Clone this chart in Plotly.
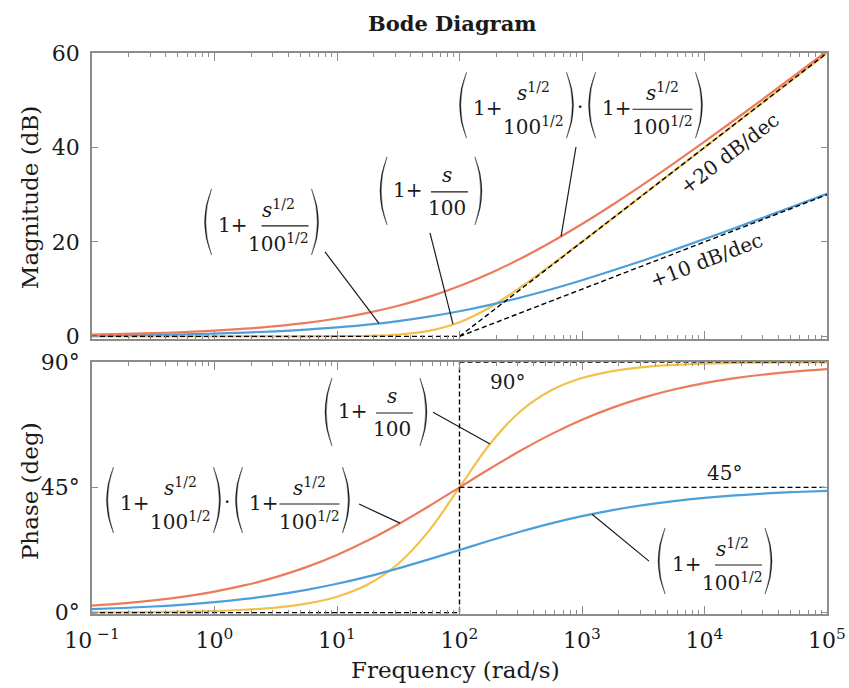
import numpy as np
import plotly.graph_objects as go

# ---------------- data ----------------
freq = [0.1, 0.1778, 0.3162, 0.5623, 1.0, 1.778, 3.162, 5.623, 10.0, 17.78, 31.62, 56.23,
        100.0, 177.8, 316.2, 562.3, 1000.0, 1778.0, 3162.0, 5623.0, 10000.0, 17783.0,
        31623.0, 56234.0, 100000.0]

mag_yellow = [0.0, 0.0, 0.0, 0.0, 0.0, 0.0, 0.0, 0.01, 0.04, 0.14, 0.41, 1.19, 3.01, 6.19,
              10.41, 15.14, 20.04, 25.01, 30.0, 35.0, 40.0, 45.0, 50.0, 55.0, 60.0]
mag_blue = [0.19, 0.26, 0.35, 0.46, 0.61, 0.81, 1.08, 1.44, 1.90, 2.49, 3.25, 4.19, 5.33, 6.69,
            8.25, 9.99, 11.90, 13.94, 16.08, 18.32, 20.61, 22.96, 25.35, 27.76, 30.19]
mag_orange = [0.39, 0.52, 0.69, 0.92, 1.22, 1.63, 2.17, 2.87, 3.79, 4.98, 6.49, 8.38, 10.67,
              13.38, 16.49, 19.98, 23.79, 27.87, 32.17, 36.63, 41.22, 45.92, 50.69, 55.52, 60.39]

ph_yellow = [0.06, 0.10, 0.18, 0.32, 0.57, 1.02, 1.81, 3.22, 5.71, 10.08, 17.55, 29.35, 45.0,
             60.65, 72.45, 79.92, 84.29, 86.78, 88.19, 88.98, 89.43, 89.68, 89.82, 89.90, 89.94]
ph_blue = [1.25, 1.66, 2.19, 2.88, 3.78, 4.93, 6.37, 8.17, 10.36, 12.94, 15.88, 19.11, 22.5,
           25.89, 29.12, 32.06, 34.64, 36.83, 38.63, 40.07, 41.22, 42.12, 42.81, 43.34, 43.75]
ph_orange = [2.51, 3.32, 4.38, 5.77, 7.56, 9.85, 12.75, 16.34, 20.71, 25.87, 31.76, 38.22, 45.0,
             51.78, 58.24, 64.13, 69.29, 73.66, 77.25, 80.15, 82.44, 84.23, 85.62, 86.68, 87.49]

# asymptotes
asym_low_f = [0.1, 100]
asym_low_v = [0, 0]
asym_high_f = [100, 100000]
mag_asym_20 = [0, 60]
mag_asym_10 = [0, 30]
ph_vert_f = [100, 100]
ph_vert_v = [0, 90]
ph_asym_90 = [90, 90]
ph_asym_45 = [45, 45]

# ticks
x_tickvals = [0.1, 1, 10, 100, 1000, 10000, 100000]
x_ticktext = ["10<sup>\u00a0\u22121</sup>", "10<sup>0</sup>", "10<sup>1</sup>", "10<sup>2</sup>",
              "10<sup>3</sup>", "10<sup>4</sup>", "10<sup>5</sup>"]
x_minor = [m * d for d in [0.1, 1, 10, 100, 1000, 10000] for m in range(2, 10)]
mag_tickvals = [0, 20, 40, 60]
mag_ticktext = ["0", "20", "40", "60"]
ph_tickvals = [0, 45, 90]
ph_ticktext = ["0\u00b0", "45\u00b0", "90\u00b0"]

# ---------------- style ----------------
FONT = "DejaVu Serif"
INK = "#1a1a1a"
FRAME = "#8c8c8c"
C_BLUE = "#4d9fdb"
C_ORANGE = "#ec7b5b"
C_YELLOW = "#f2c14c"

fig = go.Figure()


def curve(x, y, color, xa, ya, width=2.2, dash=None, shape="spline"):
    fig.add_trace(go.Scatter(x=x, y=y, mode="lines",
                             line=dict(color=color, width=width, dash=dash, shape=shape),
                             xaxis=xa, yaxis=ya, hoverinfo="skip", showlegend=False))


# magnitude
curve(freq, mag_yellow, C_YELLOW, "x", "y")
curve(freq, mag_blue, C_BLUE, "x", "y")
curve(freq, mag_orange, C_ORANGE, "x", "y")
DASH = "5px,3px"
curve(asym_low_f, asym_low_v, "black", "x", "y", 1.4, DASH, "linear")
curve(asym_high_f, mag_asym_20, "black", "x", "y", 1.4, DASH, "linear")
curve(asym_high_f, mag_asym_10, "black", "x", "y", 1.4, DASH, "linear")
# phase
curve(freq, ph_yellow, C_YELLOW, "x2", "y2")
curve(freq, ph_blue, C_BLUE, "x2", "y2")
curve(freq, ph_orange, C_ORANGE, "x2", "y2")
curve(asym_low_f, asym_low_v, "black", "x2", "y2", 1.4, DASH, "linear")
curve(ph_vert_f, ph_vert_v, "black", "x2", "y2", 1.4, DASH, "linear")
curve(asym_high_f, ph_asym_90, "black", "x2", "y2", 1.4, DASH, "linear")
curve(asym_high_f, ph_asym_45, "black", "x2", "y2", 1.4, DASH, "linear")


# ---------------- math labels ----------------
def add_text(xr, yr, lx, y, s, dx=0, dy=0, size=20, angle=0):
    fig.add_annotation(xref=xr, yref=yr, x=lx, y=y, text=s, showarrow=False,
                       xshift=dx, yshift=dy, textangle=angle,
                       font=dict(family=FONT, size=size, color=INK),
                       xanchor="center", yanchor="middle")


def add_paren(xr, yr, lx, y, xo, left, c, h):
    if left:
        p = f"M {xo+7},{c+h} Q {xo-7},{c} {xo+7},{c-h} Q {xo-4.5},{c} {xo+7},{c+h} Z"
    else:
        p = f"M {xo-7},{c+h} Q {xo+7},{c} {xo-7},{c-h} Q {xo+4.5},{c} {xo-7},{c+h} Z"
    fig.add_shape(type="path", xref=xr, yref=yr, xsizemode="pixel", ysizemode="pixel",
                  xanchor=10 ** lx, yanchor=y, path=p, fillcolor=INK,
                  line=dict(color=INK, width=0.4))


def add_bar(xr, yr, lx, y, x0, x1):
    fig.add_shape(type="line", xref=xr, yref=yr, xsizemode="pixel", ysizemode="pixel",
                  xanchor=10 ** lx, yanchor=y, x0=x0, x1=x1, y0=0, y1=0,
                  line=dict(color=INK, width=1.1))


def factor_half(xr, yr, lx, y, ox=0):
    add_paren(xr, yr, lx, y, ox - 57, True, 4, 33)
    add_paren(xr, yr, lx, y, ox + 57, False, 4, 33)
    add_text(xr, yr, lx, y, "1+", ox - 29, 1)
    add_bar(xr, yr, lx, y, ox - 13, ox + 47)
    add_text(xr, yr, lx, y, "<i>s</i><sup>1/2</sup>", ox + 17, 17)
    add_text(xr, yr, lx, y, "100<sup>1/2</sup>", ox + 17, -17)


def factor_one(xr, yr, lx, y):
    add_paren(xr, yr, lx, y, -51, True, 1, 34)
    add_paren(xr, yr, lx, y, 51, False, 1, 34)
    add_text(xr, yr, lx, y, "1+", -23, 2)
    add_bar(xr, yr, lx, y, -4, 37)
    add_text(xr, yr, lx, y, "<i>s</i>", 16.5, 17)
    add_text(xr, yr, lx, y, "100", 16.5, -16)


def factor_product(xr, yr, lx, y):
    factor_half(xr, yr, lx, y, -64.5)
    factor_half(xr, yr, lx, y, 64.5)
    add_text(xr, yr, lx, y, "\u00b7", -1, 2)


# label anchors (log10 frequency, value)
factor_half("x", "y", 0.384, 23.4)
factor_one("x", "y", 1.767, 30.6)
factor_product("x", "y", 2.992, 48.1)
factor_one("x2", "y2", 1.318, 71.7)
factor_product("x2", "y2", 0.110, 39.0)
factor_half("x2", "y2", 4.086, 17.1)

add_text("x", "y", 4.208, 38.8, "+20 dB/dec", size=20, angle=-37.6)
add_text("x", "y", 4.020, 16.2, "+10 dB/dec", size=20, angle=-21.1)
add_text("x2", "y2", 2.388, 82.8, "90\u00b0", size=20)
add_text("x2", "y2", 4.167, 50.1, "45\u00b0", size=20)

# leader lines: (x-axis, y-axis, label end (log f, value), frequency on curve, series)
log_freq = np.log10(freq)
leaders = [
    ("x", "y", (0.902, 17.9), 22.0, mag_blue),
    ("x", "y", (1.759, 21.9), 88.5, mag_yellow),
    ("x", "y", (2.951, 40.1), 675.0, mag_orange),
    ("x2", "y2", (1.784, 72.0), 177.4, ph_yellow),
    ("x2", "y2", (1.180, 39.0), 32.7, ph_orange),
    ("x2", "y2", (3.547, 18.5), 1208.0, ph_blue),
]
for xa, ya, (lx, ly), f_end, series in leaders:
    y_end = float(np.interp(np.log10(f_end), log_freq, series))
    curve([10 ** lx, f_end], [ly, y_end], INK, xa, ya, 1.2, None, "linear")

# axis titles & title
add_text("paper", "paper", -0.0844, 0.743, "Magnitude (dB)", size=23, angle=-90)
add_text("paper", "paper", -0.0844, 0.219, "Phase (deg)", size=23, angle=-90)
add_text("paper", "paper", 0.495, -0.0998, "Frequency (rad/s)", size=23)
add_text("paper", "paper", 0.490, 1.052, "<b>Bode Diagram</b>", size=21)

# ---------------- axes ----------------
common = dict(showline=True, linecolor=FRAME, linewidth=1.5, mirror="ticks",
              ticks="inside", tickcolor=FRAME, tickwidth=1, showgrid=False, zeroline=False,
              automargin=False, tickfont=dict(family=FONT, size=22, color=INK))
xcommon = dict(common, type="log", range=[-1, 5], domain=[0, 1], ticklen=8,
               tickmode="array", tickvals=x_tickvals, ticktext=x_ticktext,
               minor=dict(ticks="inside", ticklen=4, tickcolor=FRAME, tickwidth=1,
                          tickmode="array", tickvals=x_minor, showgrid=False))

fig.update_layout(
    width=849, height=688,
    margin=dict(l=92, r=22, t=53, b=74, autoexpand=False),
    paper_bgcolor="white", plot_bgcolor="white",
    showlegend=False,
    xaxis=dict(xcommon, anchor="y", showticklabels=False),
    xaxis2=dict(xcommon, anchor="y2", showticklabels=True, ticklabelstandoff=6),
    yaxis=dict(common, domain=[0.491, 1], range=[-0.45, 60], anchor="x", ticklen=6,
               tickmode="array", tickvals=mag_tickvals, ticktext=mag_ticktext,
               ticklabelstandoff=6),
    yaxis2=dict(common, domain=[0, 0.449], range=[-0.5, 90], anchor="x2", ticklen=6,
                tickmode="array", tickvals=ph_tickvals, ticktext=ph_ticktext,
                ticklabelstandoff=6),
)

fig.write_html("out.html")
